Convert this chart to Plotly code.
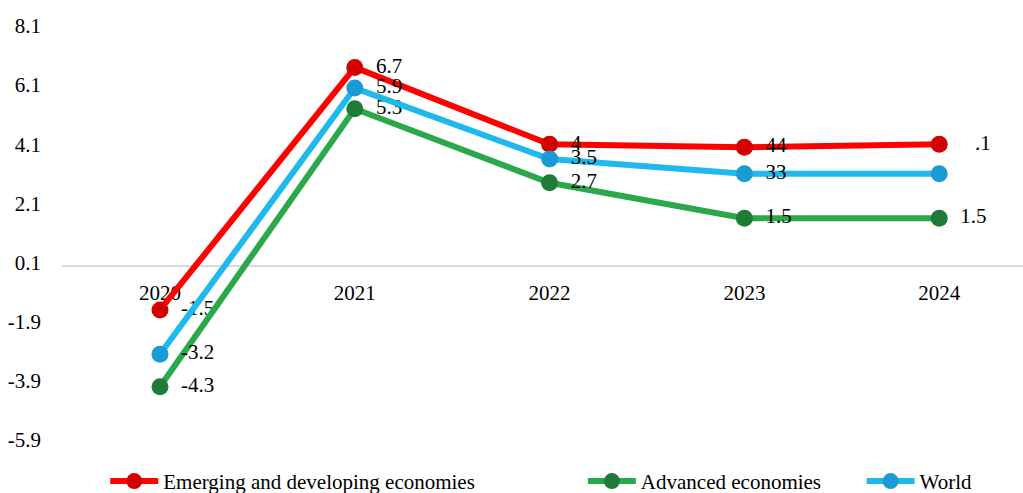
import plotly.graph_objects as go

years = ["2020", "2021", "2022", "2023", "2024"]
x_pos = [0, 1, 2, 3, 4]

emerging = [-1.5, 6.7, 4.1, 4.0, 4.1]
advanced = [-4.1, 5.3, 2.8, 1.6, 1.6]
world = [-3.0, 6.0, 3.6, 3.1, 3.1]

P = "\u00a0\u2009"
emerging_labels = [P + "-1.5", P + "6.7", P + "4", P + "44", "\u00a0\u00a0\u2009" + P + ".1"]
advanced_labels = [P + "-4.3", P + "5.3", P + "2.7", P + "1.5", P + "1.5"]
world_labels = [P + "-3.2", P + "5.9", P + "3.5", P + "33", ""]

y_ticks = [-5.9, -3.9, -1.9, 0.1, 2.1, 4.1, 6.1, 8.1]
y_ticktext = ["-5.9", "-3.9", "-1.9", "0.1", "2.1", "4.1", "6.1", "8.1"]

FONT = "Liberation Serif, Times New Roman, serif"
FS = 21

series = [
    ("Emerging and developing economies", emerging, emerging_labels, "#FF0000", "#D20000", "legend"),
    ("Advanced economies", advanced, advanced_labels, "#2BA84A", "#1E7C38", "legend2"),
    ("World", world, world_labels, "#1FB9EE", "#1B9BD3", "legend3"),
]

fig = go.Figure()
for name, vals, labels, lc, mc, leg in series:
    fig.add_trace(go.Scatter(
        x=x_pos, y=vals, name=name, mode="lines+markers+text",
        text=labels, textposition="middle right",
        textfont=dict(family=FONT, size=FS, color="black"),
        line=dict(color=lc, width=6),
        marker=dict(color=mc, size=17),
        cliponaxis=False, legend=leg,
    ))

ymin, ymax = -5.9, 8.1
leg_common = dict(orientation="h", y=-0.1, xanchor="left", yanchor="middle",
                  itemwidth=48, font=dict(family=FONT, size=FS, color="black"),
                  bgcolor="rgba(0,0,0,0)")
fig.update_layout(
    width=1023, height=493,
    margin=dict(l=62, r=0, t=26, b=53, autoexpand=False),
    paper_bgcolor="white", plot_bgcolor="white",
    font=dict(family=FONT, size=FS, color="black"),
    xaxis=dict(
        range=[-0.503, 4.43], tickvals=x_pos, ticktext=years,
        showgrid=False, zeroline=False, showline=False,
        anchor="free", position=(0 - ymin) / (ymax - ymin),
        ticks="", ticklabelstandoff=12, layer="below traces",
        tickfont=dict(family=FONT, size=FS, color="black"),
    ),
    yaxis=dict(
        range=[ymin, ymax], tickvals=y_ticks, ticktext=y_ticktext,
        showgrid=False, zeroline=True, zerolinecolor="#D9D9D9", zerolinewidth=2,
        showline=False, ticks="", ticklabelstandoff=20,
        tickfont=dict(family=FONT, size=FS, color="black"),
    ),
    legend=dict(x=0.045, **leg_common),
    legend2=dict(x=0.542, **leg_common),
    legend3=dict(x=0.832, **leg_common),
    showlegend=True,
)

fig.write_html("out.html")
